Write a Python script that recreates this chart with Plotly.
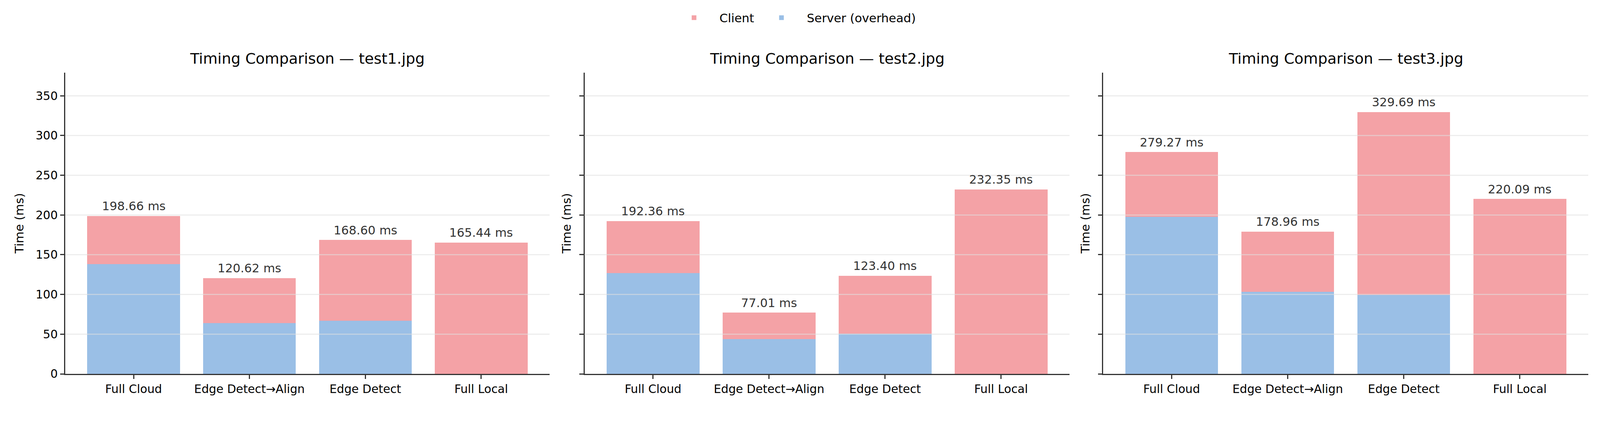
import plotly.graph_objects as go
from plotly.subplots import make_subplots

# timing data (ms)
images = ["test1.jpg", "test2.jpg", "test3.jpg"]
modes = ["Full Cloud", "Edge Detect→Align", "Edge Detect", "Full Local"]

total_test1 = [198.66, 120.62, 168.60, 165.44]
total_test2 = [192.36, 77.01, 123.40, 232.35]
total_test3 = [279.27, 178.96, 329.69, 220.09]

server_test1 = [138.1, 63.8, 66.8, 0.0]
server_test2 = [127.0, 43.6, 50.6, 0.0]
server_test3 = [197.9, 103.3, 99.1, 0.0]

y_ticks = [0, 50, 100, 150, 200, 250, 300, 350]

totals = [total_test1, total_test2, total_test3]
servers = [server_test1, server_test2, server_test3]

CLIENT_COLOR = "#F4A2A6"
SERVER_COLOR = "#9ABFE6"
AXIS_COLOR = "#333333"
FONT = "DejaVu Sans"

# the page comes out ~7.5% larger than its css size, so size everything down
S = 0.93


def px(v):
    return v * S


def main():
    fig = make_subplots(rows=1, cols=3, shared_yaxes=True)
    y_max = max(max(t) for t in totals) * 1.15

    domains = [[0.0, 0.318], [0.341, 0.6594], [0.6815, 1.0]]

    for i, (img, total, server) in enumerate(zip(images, totals, servers)):
        col = i + 1
        client = [t - s for t, s in zip(total, server)]

        fig.add_trace(go.Bar(
            x=modes, y=server, name="Server (overhead)",
            marker=dict(color=SERVER_COLOR, line=dict(width=0)),
            legendgroup="server", showlegend=(i == 0), legendrank=2,
            hoverinfo="skip",
        ), row=1, col=col)
        fig.add_trace(go.Bar(
            x=modes, y=client, name="Client",
            marker=dict(color=CLIENT_COLOR, line=dict(width=0)),
            legendgroup="client", showlegend=(i == 0), legendrank=1,
            hoverinfo="skip",
        ), row=1, col=col)

        xa = "x" if col == 1 else f"x{col}"
        ya = "y" if col == 1 else f"y{col}"

        # total labels above each stack
        for m, t in zip(modes, total):
            fig.add_annotation(
                x=m, y=t, xref=xa, yref=ya, text=f"{t:.2f} ms",
                showarrow=False, yanchor="bottom", yshift=px(6),
                font=dict(family=FONT, size=px(33), color="#333333"),
            )

        # subplot title
        d = domains[i]
        fig.add_annotation(
            x=(d[0] + d[1]) / 2, y=1, xref="paper", yref="paper",
            text=f"Timing Comparison — {img}", showarrow=False,
            xanchor="center", yanchor="bottom", yshift=px(13),
            font=dict(family=FONT, size=px(41), color="#000000"),
        )

        # grid drawn over the bars like matplotlib does
        for v in y_ticks:
            if v == 0:
                continue
            fig.add_shape(
                type="line", xref=f"{xa} domain", yref=ya,
                x0=0, x1=1, y0=v, y1=v, layer="above",
                line=dict(color="rgba(223,223,223,0.6)", width=px(3)),
            )

        fig.update_xaxes(
            domain=d, range=[-0.59, 3.59], showline=True, linecolor=AXIS_COLOR,
            linewidth=px(3), ticks="outside", ticklen=px(11), tickwidth=px(3),
            tickcolor=AXIS_COLOR, showgrid=False, zeroline=False,
            tickfont=dict(family=FONT, size=px(32), color="#000000"),
            row=1, col=col,
        )
        fig.update_yaxes(
            range=[0, y_max], tickvals=y_ticks, showline=True,
            linecolor=AXIS_COLOR, linewidth=px(3), ticks="outside", ticklen=px(11),
            tickwidth=px(3), tickcolor=AXIS_COLOR, showgrid=False, zeroline=False,
            showticklabels=(col == 1),
            tickfont=dict(family=FONT, size=px(32), color="#000000"),
            title=dict(text="Time (ms)",
                       font=dict(family=FONT, size=px(33), color="#000000"),
                       standoff=px(24) if col == 1 else px(14)),
            row=1, col=col,
        )

    fig.update_layout(
        width=round(px(4400)), height=round(px(1116)),
        barmode="stack", bargap=0.2,
        paper_bgcolor="white", plot_bgcolor="white",
        margin=dict(l=px(171), r=px(37), t=px(190), b=px(96)),
        font=dict(family=FONT, size=px(32), color="#000000"),
        legend=dict(
            orientation="h", x=0.478, xanchor="center", y=1.181, yanchor="middle",
            font=dict(family=FONT, size=px(33), color="#000000"),
            itemwidth=120,
            bgcolor="rgba(0,0,0,0)",
        ),
    )

    fig.write_html("out.html")


if __name__ == "__main__":
    main()
